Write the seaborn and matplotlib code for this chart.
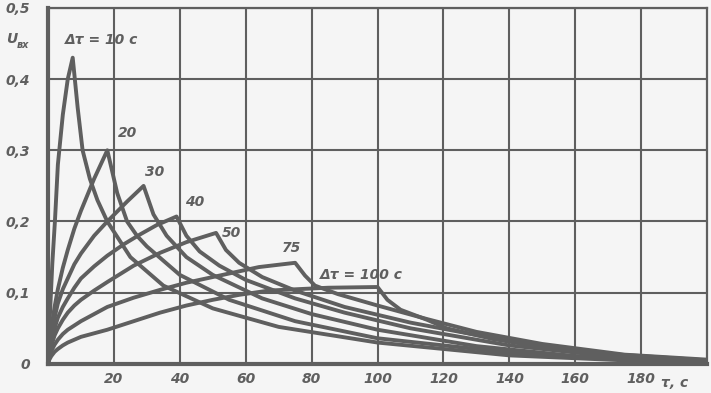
import pandas as pd
import matplotlib.pyplot as plt
import seaborn as sns

# curves U_вх(τ), one per pulse width Δτ
t10 = [0, 0.3, 0.7, 1.3, 2.1, 3, 4.5, 6, 7.5, 9, 10.5, 12.7, 15, 18, 25, 35, 50, 70, 100, 140, 180, 200]
u10 = [0, 0.04, 0.08, 0.14, 0.2, 0.28, 0.35, 0.40, 0.43, 0.36, 0.30, 0.26, 0.23, 0.20, 0.15, 0.11, 0.078, 0.052, 0.03, 0.012, 0.004, 0.002]

t20 = [0, 0.3, 1, 2, 3, 4.5, 6, 8, 10, 14, 18, 21, 24, 27, 30, 35, 40, 55, 75, 100, 140, 180, 200]
u20 = [0, 0.02, 0.05, 0.08, 0.105, 0.135, 0.16, 0.19, 0.215, 0.26, 0.30, 0.24, 0.20, 0.18, 0.165, 0.145, 0.125, 0.09, 0.06, 0.036, 0.016, 0.005, 0.002]

t30 = [0, 0.3, 1, 2, 3, 4.5, 6, 8, 10, 14, 18, 24, 29, 32, 36, 42, 50, 65, 80, 100, 130, 160, 200]
u30 = [0, 0.015, 0.04, 0.065, 0.085, 0.105, 0.12, 0.14, 0.155, 0.18, 0.20, 0.228, 0.25, 0.21, 0.18, 0.15, 0.125, 0.092, 0.07, 0.048, 0.025, 0.011, 0.003]

t40 = [0, 0.3, 1, 2, 3, 4.5, 6, 8, 10, 14, 18, 23, 28, 33, 39, 42, 46, 52, 60, 75, 90, 110, 140, 170, 200]
u40 = [0, 0.012, 0.03, 0.05, 0.065, 0.08, 0.092, 0.107, 0.12, 0.137, 0.152, 0.168, 0.182, 0.195, 0.207, 0.18, 0.158, 0.138, 0.118, 0.092, 0.072, 0.05, 0.026, 0.011, 0.004]

t50 = [0, 0.3, 1, 2, 3, 4.5, 6, 8, 10, 14, 18, 26, 34, 42, 51, 54, 58, 65, 75, 90, 110, 140, 170, 200]
u50 = [0, 0.01, 0.025, 0.04, 0.05, 0.062, 0.072, 0.082, 0.09, 0.103, 0.115, 0.138, 0.156, 0.171, 0.184, 0.16, 0.142, 0.122, 0.103, 0.08, 0.058, 0.032, 0.014, 0.005]

t75 = [0, 0.3, 1, 2, 3, 4.5, 6, 8, 10, 14, 18, 26, 34, 42, 50, 64, 75, 78, 81, 88, 100, 115, 130, 150, 175, 200]
u75 = [0, 0.008, 0.018, 0.027, 0.034, 0.042, 0.048, 0.054, 0.06, 0.07, 0.08, 0.093, 0.104, 0.114, 0.122, 0.136, 0.142, 0.124, 0.11, 0.098, 0.082, 0.063, 0.045, 0.028, 0.013, 0.006]

t100 = [0, 0.3, 1, 2, 3, 4.5, 6, 8, 10, 14, 18, 26, 34, 42, 50, 58, 67, 85, 100, 103, 107, 115, 121, 135, 155, 180, 200]
u100 = [0, 0.005, 0.011, 0.017, 0.021, 0.026, 0.03, 0.034, 0.038, 0.043, 0.048, 0.06, 0.072, 0.082, 0.09, 0.097, 0.103, 0.107, 0.108, 0.09, 0.076, 0.062, 0.05, 0.035, 0.02, 0.009, 0.005]

curves = {'10': (t10, u10), '20': (t20, u20), '30': (t30, u30), '40': (t40, u40),
          '50': (t50, u50), '75': (t75, u75), '100': (t100, u100)}

x_ticks = [20, 40, 60, 80, 100, 120, 140, 160, 180]
y_ticks = [0, 0.1, 0.2, 0.3, 0.4, 0.5]
y_labels = ['0', '0,1', '0,2', '0,3', '0,4', '0,5']

rows = []
for name, (tt, uu) in curves.items():
    for a, b in zip(tt, uu):
        rows.append({'curve': name, 't': a, 'u': b})
df = pd.DataFrame(rows)

ink = '#5f5f5f'
paper = '#f5f5f5'
sns.set_style('white', {'axes.facecolor': paper, 'figure.facecolor': paper})

fig = plt.figure(figsize=(7.11, 3.93), dpi=100)
ax = fig.add_axes([0.0675, 0.074, 0.927, 0.906])

sns.lineplot(data=df, x='t', y='u', units='curve', estimator=None, sort=False,
             color=ink, linewidth=2.8, ax=ax)

ax.set_xlim(0, 200)
ax.set_ylim(0, 0.5)
ax.set_xticks(x_ticks)
ax.set_yticks(y_ticks)
ax.set_yticklabels(y_labels)
ax.grid(True, color=ink, linewidth=1.5)
ax.set_axisbelow(True)
ax.set_xlabel('')
ax.set_ylabel('')
for side in ['top', 'right']:
    ax.spines[side].set_linewidth(1.6)
    ax.spines[side].set_color(ink)
for side in ['left', 'bottom']:
    ax.spines[side].set_linewidth(3)
    ax.spines[side].set_color(ink)
ax.tick_params(length=0, labelcolor=ink)
ax.tick_params(axis='x', pad=6)
ax.tick_params(axis='y', pad=13)
for lab in ax.get_xticklabels() + ax.get_yticklabels():
    lab.set_fontstyle('italic')
    lab.set_fontweight('bold')
    lab.set_fontsize(10)

kw = dict(color=ink, fontsize=10, fontweight='bold', fontstyle='italic')
ax.text(5.2, 0.455, 'Δτ = 10 с', va='center', **kw)
ax.text(24, 0.324, '20', ha='center', va='center', **kw)
ax.text(32.4, 0.27, '30', ha='center', va='center', **kw)
ax.text(44.5, 0.228, '40', ha='center', va='center', **kw)
ax.text(55.8, 0.184, '50', ha='center', va='center', **kw)
ax.text(74, 0.163, '75', ha='center', va='center', **kw)
ax.text(82.4, 0.125, 'Δτ = 100 с', va='center', **kw)
ax.text(190, -0.027, 'τ, с', ha='center', va='center', clip_on=False, **kw)

fig.text(0.008, 0.90, 'U', ha='left', va='center', **kw)
fig.text(0.024, 0.885, 'вх', ha='left', va='center', color=ink, fontsize=7,
         fontweight='bold', fontstyle='italic')

fig.savefig('out.png', dpi=100, facecolor=paper)
